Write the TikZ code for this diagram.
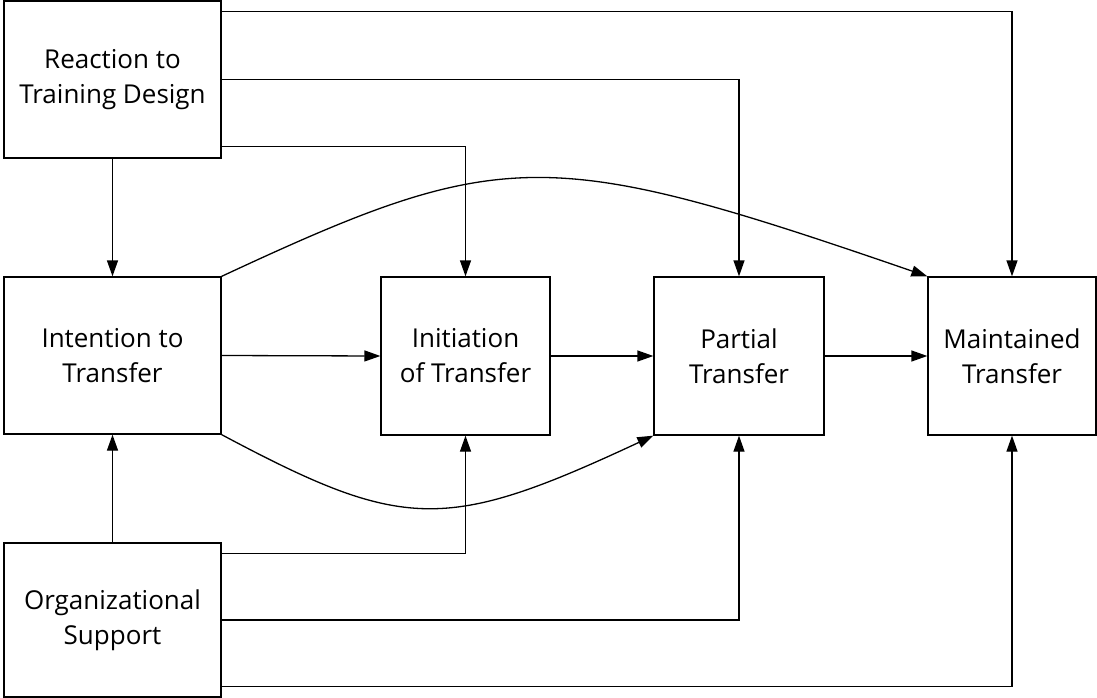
\documentclass[tikz,border=0pt]{standalone}
\usepackage{fontspec}
\setmainfont{Open Sans}
\usetikzlibrary{arrows.meta}
\begin{document}
\begin{tikzpicture}[x=1pt,y=-1pt,
  box/.style={draw,line width=1.3pt,inner sep=0pt,align=center,
    font=\fontsize{26}{35}\selectfont,text=black},
  conn/.style={line width=1.3pt,-{Triangle[length=16pt,width=11pt]}}]
\useasboundingbox (0,0) rectangle (1097,698);
\node[box,minimum width=217pt,minimum height=157pt] (R) at (112.5,79.5) {Reaction to\\Training Design};
\node[box,minimum width=217pt,minimum height=157pt] (I) at (112.5,355.5) {Intention to\\Transfer};
\node[box,minimum width=169pt,minimum height=158pt] (In) at (465.5,356) {Initiation\\of Transfer};
\node[box,minimum width=170pt,minimum height=158pt] (P) at (739,356) {Partial\\Transfer};
\node[box,minimum width=168pt,minimum height=158pt] (M) at (1012,356) {Maintained\\Transfer};
\node[box,minimum width=217pt,minimum height=154pt] (O) at (112.5,620) {Organizational\\Support};
% from Reaction
\draw[conn] (R.south) -- (I.north);
\draw[conn] ([yshift=12pt]R.south east) -| (In.north);
\draw[conn] (R.east) -| (P.north);
\draw[conn] ([yshift=-11pt]R.north east) -| (M.north);
% chain
\draw[conn] (I.east) -- (In.west);
\draw[conn] (In.east) -- (P.west);
\draw[conn] (P.east) -- (M.west);
% from Organizational support
\draw[conn] (O.north) -- (I.south);
\draw[conn] ([yshift=-11pt]O.north east) -| (In.south);
\draw[conn] (O.east) -| (P.south);
\draw[conn] ([yshift=11pt]O.south east) -| (M.south);
% curves
\draw[conn] (I.north east) .. controls +(281,-131) and +(-380,-131) .. (M.north west);
\draw[conn] (I.south east) .. controls +(182,97) and +(-208,97) .. (P.south west);
\end{tikzpicture}
\end{document}
